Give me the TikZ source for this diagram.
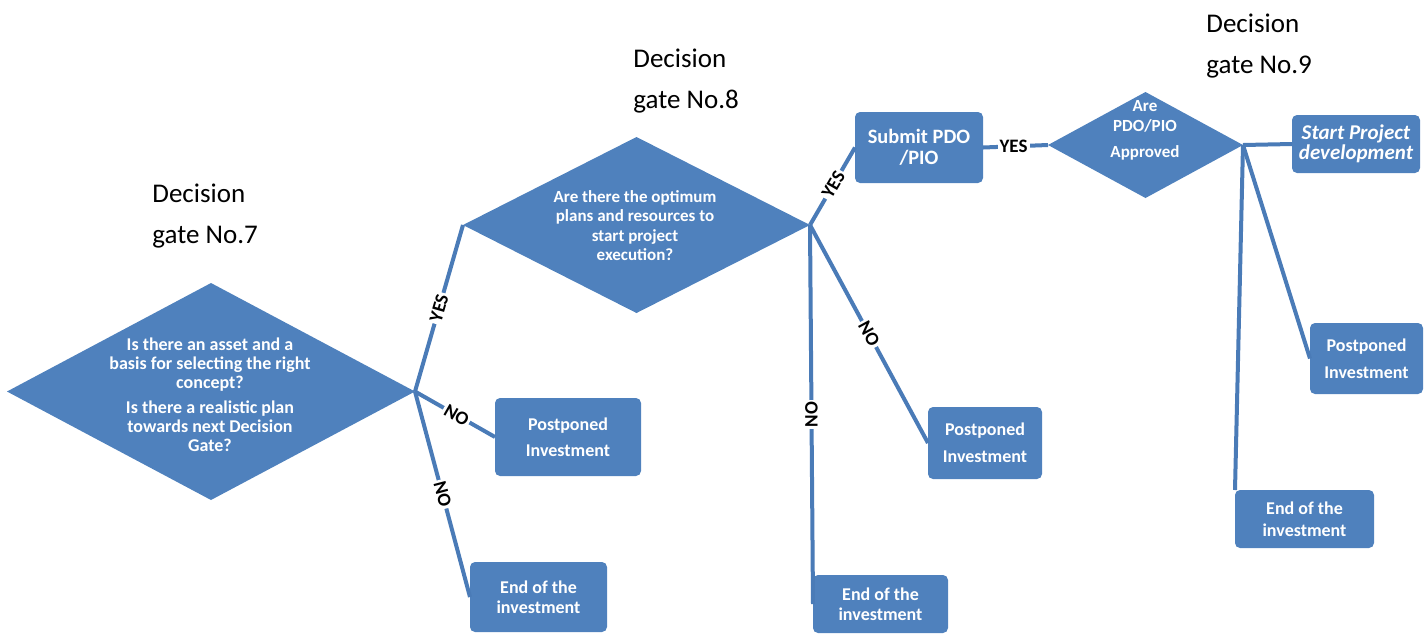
\documentclass[tikz,border=0pt]{standalone}
\usepackage{fontspec}
\setmainfont{Carlito}
\usetikzlibrary{shapes.geometric}
\definecolor{gateblue}{HTML}{4F81BD}
\definecolor{wireblue}{HTML}{4A7BB7}

\begin{document}
\begin{tikzpicture}[x=0.5pt,y=-0.5pt,
  gate/.style={diamond, fill=gateblue, draw=none, inner sep=0pt, outer sep=0pt},
  qtext/.style={text=white, font=\bfseries\fontsize{9}{9.5}\selectfont, align=center, inner sep=0pt},
  box/.style={rectangle, rounded corners=2.5pt, fill=gateblue, text=white,
    font=\bfseries\fontsize{9}{13}\selectfont, align=center, inner sep=0pt, outer sep=0pt},
  wire/.style={draw=wireblue, line width=2pt},
  answer/.style={fill=white, text=black, font=\bfseries\fontsize{9.5}{9.5}\selectfont, inner sep=1pt},
  gatename/.style={font=\fontsize{13.5}{20.5}\selectfont, align=left, anchor=west, inner sep=0pt}]

\useasboundingbox (0,0) rectangle (1426,634);

% gate titles
\node[gatename] (g7) at (152,216) {Decision\\gate No.7};
\node[gatename] (g8) at (633,81) {Decision\\gate No.8};
\node[gatename] (g9) at (1206,46) {Decision\\gate No.9};

% decision diamonds
\node[gate, minimum width=204pt, minimum height=108.5pt] (d7) at (211,391.5) {};
\node[gate, minimum width=173.5pt, minimum height=88pt] (d8) at (636.5,225) {};
\node[gate, minimum width=97.5pt, minimum height=53pt] (d9) at (1145.5,145) {};

% questions
\node[qtext] (q7) at (210,395) {Is there an asset and a\\basis for selecting the right\\concept?\\[3pt]Is there a realistic plan\\towards next Decision\\Gate?};
\node[qtext, font=\bfseries\fontsize{8.5}{9.8}\selectfont] (q8) at (635,225.5) {Are there the optimum\\plans and resources to\\start project\\execution?};
\node[qtext, font=\bfseries\fontsize{8.5}{10}\selectfont] (q9) at (1145,130) {Are\\PDO/PIO\\[3pt]Approved};

% outcome boxes
\node[box, minimum width=73pt, minimum height=39pt] (p1) at (568,437) {Postponed\\Investment};
\node[box, minimum width=68.5pt, minimum height=35pt, font=\bfseries\fontsize{9}{10}\selectfont] (e1) at (538.5,597) {End of the\\investment};
\node[box, minimum width=64pt, minimum height=35.5pt, font=\bfseries\fontsize{10.2}{10.5}\selectfont] (s) at (919,147.5) {Submit PDO\\/PIO};
\node[box, minimum width=57pt, minimum height=36pt, font=\bfseries\fontsize{9}{13.5}\selectfont] (p2) at (985,443) {Postponed\\Investment};
\node[box, minimum width=67.5pt, minimum height=29pt, font=\bfseries\fontsize{9}{10}\selectfont] (e2) at (880.5,604) {End of the\\investment};
\node[box, minimum width=64pt, minimum height=29pt, font=\bfseries\itshape\fontsize{10.5}{10}\selectfont] (st) at (1356,144) {Start Project\\development};
\node[box, minimum width=56.5pt, minimum height=35.5pt, font=\bfseries\fontsize{9}{13.5}\selectfont] (p3) at (1366.5,358.5) {Postponed\\Investment};
\node[box, minimum width=69.5pt, minimum height=29pt, font=\bfseries\fontsize{9}{11}\selectfont] (e3) at (1304.5,519) {End of the\\investment};

% connectors from gate No.7
\draw[wire] (d7.east) -- node[answer, sloped, pos=0.5] {YES} (d8.west);
\draw[wire] (d7.east) -- node[answer, sloped, pos=0.52] {NO} (p1.west);
\draw[wire] (d7.east) -- node[answer, sloped, pos=0.5] {NO} (e1.west);

% connectors from gate No.8
\draw[wire] (d8.east) -- node[answer, sloped, pos=0.52] {YES} (s.west);
\draw[wire] (d8.east) -- node[answer, sloped, pos=0.5] {NO} (p2.west);
\draw[wire] (d8.east) -- node[answer, rotate=90, pos=0.5] {NO} (e2.west);

% submission to approval
\draw[wire] (s.east) -- node[answer, pos=0.47] {YES} (d9.west);

% connectors from gate No.9
\draw[wire] (d9.east) -- (st.west);
\draw[wire] (d9.east) -- (p3.west);
\draw[wire] (d9.east) -- (e3.north west);
\end{tikzpicture}
\end{document}
